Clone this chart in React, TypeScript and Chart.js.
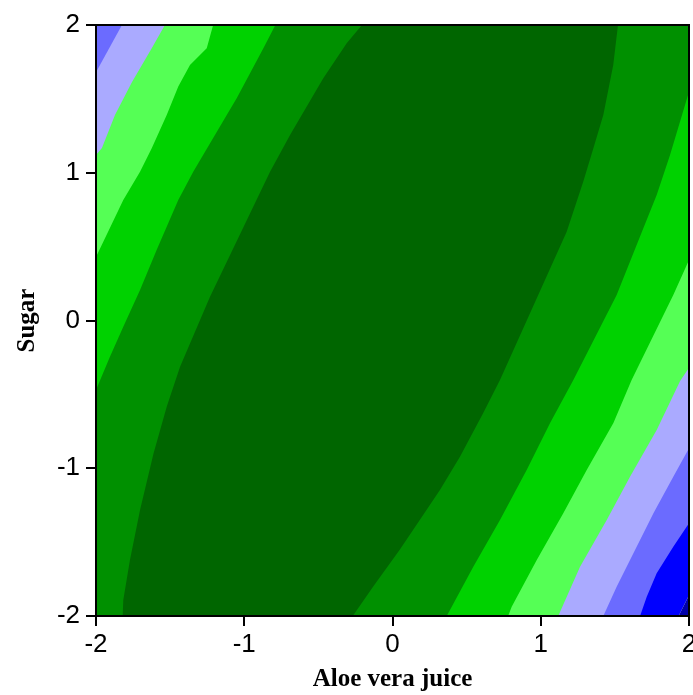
import React, { useEffect, useRef } from 'react';
import { Chart, registerables } from 'chart.js';

Chart.register(...registerables);

// Axis ticks and titles
const X_TICKS = [-2, -1, 0, 1, 2];
const Y_TICKS = [-2, -1, 0, 1, 2];
const X_TITLE = 'Aloe vera juice';
const Y_TITLE = 'Sugar';

// Contour band colours (low → high response)
const C_NAVY = '#0000aa';
const C_BLUE = '#0000ff';
const C_MEDBLUE = '#6b6bff';
const C_LAVENDER = '#aaaaff';
const C_LIGHTGREEN = '#55ff55';
const C_BRIGHTGREEN = '#00d200';
const C_GREEN = '#009000';
const C_DARKGREEN = '#006600';

// Contour boundaries: [Aloe vera juice, Sugar] pairs, x ascending.
// Right-hand (lower-right) boundaries
const R0_NAVY_BLUE: [number, number][] = [[-2, -2], [1.93, -2], [2, -1.86]];
const R1_BLUE_MEDBLUE: [number, number][] = [[-2, -2], [1.67, -2], [1.715, -1.869], [1.782, -1.711], [1.894, -1.531], [2, -1.373]];
const R2_MEDBLUE_LAVENDER: [number, number][] = [[-2, -2], [1.422, -2], [1.512, -1.802], [1.625, -1.576], [1.76, -1.305], [1.894, -1.057], [2, -0.865]];
const R3_LAVENDER_LIGHTGREEN: [number, number][] = [[-2, -2], [1.118, -2], [1.265, -1.666], [1.445, -1.35], [1.602, -1.057], [1.782, -0.741], [1.94, -0.41], [2, -0.32]];
const R4_LIGHTGREEN_BRIGHTGREEN: [number, number][] = [[-2, -2], [0.78, -2], [0.804, -1.937], [0.973, -1.621], [1.152, -1.305], [1.31, -1.012], [1.49, -0.694], [1.613, -0.403], [1.894, 0.173], [2, 0.41]];
const R5_BRIGHTGREEN_GREEN: [number, number][] = [[-2, -2], [0.366, -2], [0.545, -1.666], [0.725, -1.35], [0.905, -1.012], [1.063, -0.694], [1.22, -0.403], [1.512, 0.173], [1.692, 0.624], [1.782, 0.849], [1.872, 1.12], [2, 1.549]];
const R6_GREEN_DARKGREEN: [number, number][] = [[-2, -2], [-0.268, -2], [-0.13, -1.8], [0.05, -1.55], [0.32, -1.147], [0.455, -0.922], [0.612, -0.626], [0.725, -0.403], [1.175, 0.601], [1.287, 0.94], [1.355, 1.165], [1.422, 1.391], [1.489, 1.729], [1.521, 2]];
// Left-hand (upper-left) boundaries
const L6_DARKGREEN_GREEN: [number, number][] = [[-2, -2], [-1.82, -2], [-1.816, -1.892], [-1.771, -1.621], [-1.703, -1.283], [-1.612, -0.9], [-1.523, -0.583], [-1.433, -0.313], [-1.231, 0.161], [-0.826, 1.007], [-0.691, 1.256], [-0.467, 1.639], [-0.309, 1.876], [-0.206, 2]];
const L5_GREEN_BRIGHTGREEN: [number, number][] = [[-2, -0.47], [-1.906, -0.245], [-1.816, -0.042], [-1.703, 0.206], [-1.591, 0.477], [-1.445, 0.816], [-1.344, 1.007], [-1.118, 1.391], [-1.051, 1.504], [-0.871, 1.842], [-0.79, 2]];
const L4_BRIGHTGREEN_LIGHTGREEN: [number, number][] = [[-2, 0.43], [-1.816, 0.816], [-1.703, 1.007], [-1.624, 1.165], [-1.523, 1.391], [-1.445, 1.583], [-1.366, 1.729], [-1.253, 1.842], [-1.21, 2]];
const L3_LIGHTGREEN_LAVENDER: [number, number][] = [[-2, 1.12], [-1.96, 1.168], [-1.872, 1.391], [-1.757, 1.614], [-1.624, 1.842], [-1.535, 2]];
const L2_LAVENDER_MEDBLUE: [number, number][] = [[-2, 1.68], [-1.825, 2]];

// Painting order: first entry painted first (bottom layer)
const LAYERS: { pts: [number, number][]; color: string; fill: string }[] = [
  { pts: R0_NAVY_BLUE, color: C_BLUE, fill: 'end' },
  { pts: R0_NAVY_BLUE, color: C_NAVY, fill: 'start' },
  { pts: R1_BLUE_MEDBLUE, color: C_MEDBLUE, fill: 'end' },
  { pts: R2_MEDBLUE_LAVENDER, color: C_LAVENDER, fill: 'end' },
  { pts: R3_LAVENDER_LIGHTGREEN, color: C_LIGHTGREEN, fill: 'end' },
  { pts: R4_LIGHTGREEN_BRIGHTGREEN, color: C_BRIGHTGREEN, fill: 'end' },
  { pts: R5_BRIGHTGREEN_GREEN, color: C_GREEN, fill: 'end' },
  { pts: R6_GREEN_DARKGREEN, color: C_DARKGREEN, fill: 'end' },
  { pts: L6_DARKGREEN_GREEN, color: C_GREEN, fill: 'end' },
  { pts: L5_GREEN_BRIGHTGREEN, color: C_BRIGHTGREEN, fill: 'end' },
  { pts: L4_BRIGHTGREEN_LIGHTGREEN, color: C_LIGHTGREEN, fill: 'end' },
  { pts: L3_LIGHTGREEN_LAVENDER, color: C_LAVENDER, fill: 'end' },
  { pts: L2_LAVENDER_MEDBLUE, color: C_MEDBLUE, fill: 'end' },
];

const TICK_FONT = "'Liberation Sans Narrow', 'Arial Narrow', 'Liberation Sans', sans-serif";
const TITLE_FONT = "'Liberation Serif', 'Times New Roman', serif";

const framePlugin = {
  id: 'frame',
  afterDatasetsDraw(chart: any) {
    const { ctx, chartArea } = chart;
    ctx.save();
    ctx.strokeStyle = '#000';
    ctx.lineWidth = 2;
    ctx.strokeRect(chartArea.left, chartArea.top, chartArea.right - chartArea.left, chartArea.bottom - chartArea.top);
    ctx.restore();
  },
};

export default function App() {
  const ref = useRef<HTMLCanvasElement | null>(null);

  useEffect(() => {
    if (!ref.current) return;
    // Chart.js draws dataset index 0 last, so reverse the painting order
    const datasets = LAYERS.slice().reverse().map((l) => ({
      data: l.pts.map(([x, y]) => ({ x, y })),
      backgroundColor: l.color,
      borderColor: 'rgba(0,0,0,0)',
      borderWidth: 0,
      pointRadius: 0,
      pointHoverRadius: 0,
      tension: 0,
      fill: l.fill,
    }));
    const chart = new Chart(ref.current, {
      type: 'line',
      data: { datasets },
      options: {
        animation: false,
        responsive: false,
        devicePixelRatio: 1,
        events: [],
        layout: { padding: { left: 0, top: 25, right: 4, bottom: 0 } },
        plugins: { legend: { display: false }, tooltip: { enabled: false } },
        scales: {
          x: {
            type: 'linear',
            min: X_TICKS[0],
            max: X_TICKS[X_TICKS.length - 1],
            afterBuildTicks: (s: any) => { s.ticks = X_TICKS.map((v) => ({ value: v })); },
            ticks: { color: '#000', font: { family: TICK_FONT, size: 26 }, padding: 3, maxRotation: 0, autoSkip: false },
            grid: { display: true, drawOnChartArea: false, drawTicks: true, tickLength: 10, color: '#000', lineWidth: 2 },
            border: { display: true, color: '#000', width: 2 },
            title: { display: true, text: X_TITLE, color: '#000', font: { family: TITLE_FONT, size: 25, weight: 'bold' }, padding: 0 },
            afterFit: (s: any) => { s.height = 79; s.paddingLeft = 0; s.paddingRight = 0; },
          },
          y: {
            type: 'linear',
            min: Y_TICKS[0],
            max: Y_TICKS[Y_TICKS.length - 1],
            afterBuildTicks: (s: any) => { s.ticks = Y_TICKS.map((v) => ({ value: v })); },
            ticks: { color: '#000', font: { family: TICK_FONT, size: 26 }, padding: 6, autoSkip: false },
            grid: { display: true, drawOnChartArea: false, drawTicks: true, tickLength: 10, color: '#000', lineWidth: 2 },
            border: { display: true, color: '#000', width: 2 },
            title: { display: true, text: Y_TITLE, color: '#000', font: { family: TITLE_FONT, size: 25, weight: 'bold' }, padding: { top: 13, bottom: 0 } },
            afterFit: (s: any) => { s.width = 96; s.paddingTop = 0; s.paddingBottom = 0; },
          },
        },
      } as any,
      plugins: [framePlugin],
    });
    return () => chart.destroy();
  }, []);

  return (
    <div style={{ position: 'fixed', left: 0, top: 0, width: 693, height: 695, background: '#fff' }}>
      <canvas ref={ref} width={693} height={695} style={{ display: 'block', width: 693, height: 695 }} />
    </div>
  );
}
